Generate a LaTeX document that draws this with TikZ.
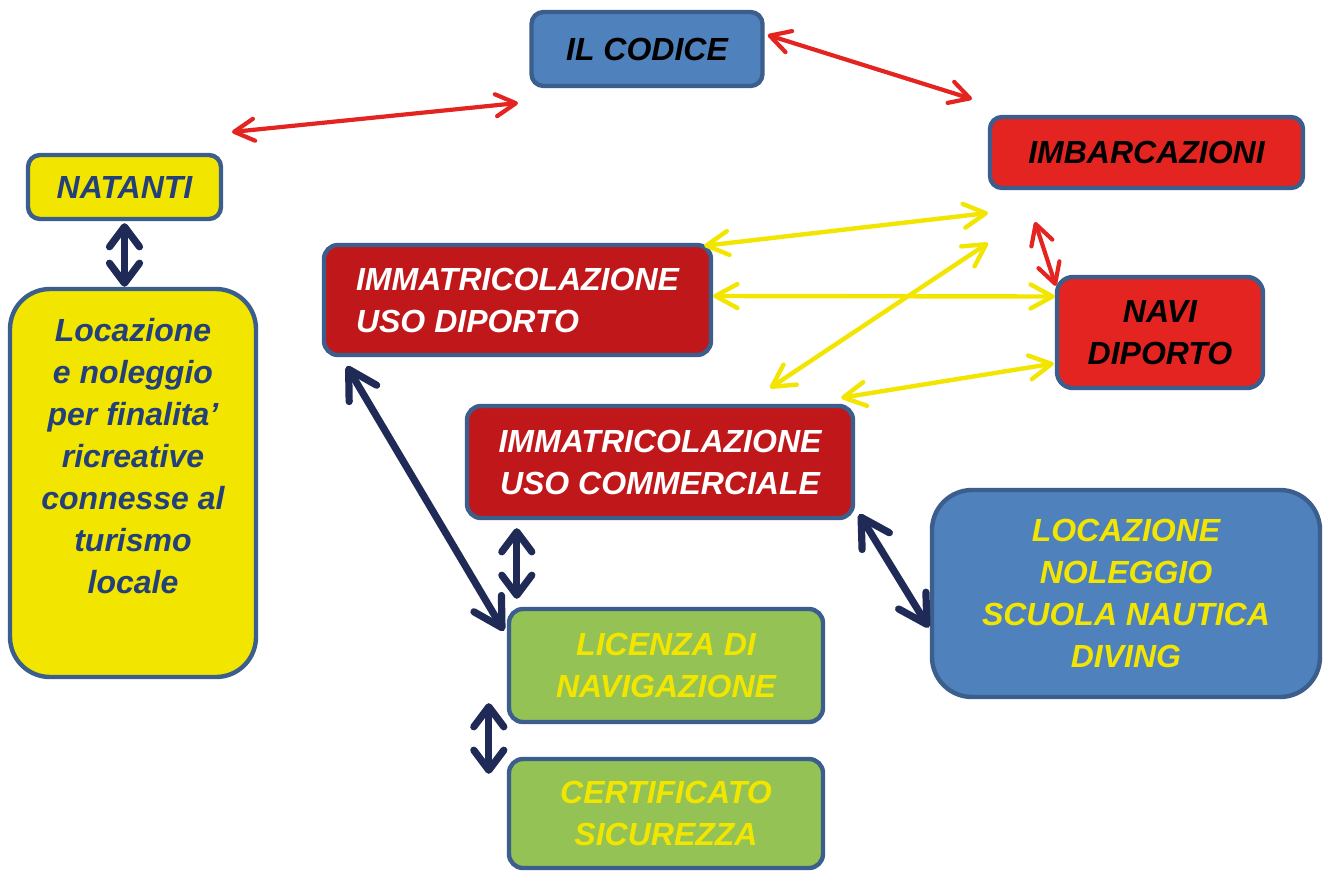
\documentclass[tikz,border=0pt]{standalone}
\usepackage{fontspec}
\setmainfont{Liberation Sans}
\usetikzlibrary{positioning,arrows.meta,calc}

\definecolor{edgeblue}{HTML}{3B5E8C}
\definecolor{codeblue}{HTML}{4F81BD}
\definecolor{lightred}{HTML}{E42420}
\definecolor{deepred}{HTML}{C0181A}
\definecolor{leafgreen}{HTML}{94C254}
\definecolor{sunyellow}{HTML}{F2E600}
\definecolor{inkblue}{HTML}{24407A}
\definecolor{navy}{HTML}{1F2B56}

\begin{document}
\begin{tikzpicture}[x=0.5pt, y=-0.5pt, line cap=round,
  box/.style={draw=edgeblue, line width=2.2pt, rounded corners=6pt,
    align=center, inner sep=0pt,
    font=\bfseries\itshape\fontsize{16}{21}\selectfont},
  txt/.style={align=center, inner sep=0pt,
    font=\bfseries\itshape\fontsize{16}{21}\selectfont},
  redlink/.style={<->, >={Straight Barb[length=10pt,width=11pt,round]},
    line width=2.1pt, lightred},
  yellink/.style={<->, >={Straight Barb[length=11pt,width=12pt,round]},
    line width=2.2pt, sunyellow},
  navylink/.style={<->, >={Straight Barb[length=14pt,width=16pt,round]},
    line width=3.6pt, navy},
  navyshort/.style={navylink, >={Straight Barb[length=10pt,width=15pt,round]}}
]
\useasboundingbox (0,0) rectangle (1328,873);

%--- Boxes ---
\node[box, fill=codeblue, minimum width=115.5pt, minimum height=37pt]
  (codice) at (647,49) {IL CODICE};
\node[box, fill=lightred, minimum width=156.5pt, minimum height=35.5pt]
  (imbarc) at (1146.5,152.5) {IMBARCAZIONI};
\node[box, fill=sunyellow, text=inkblue, minimum width=96.5pt, minimum height=32pt]
  (natanti) at (124.5,187) {NATANTI};
\node[box, fill=sunyellow, rounded corners=20pt, minimum width=123pt, minimum height=194pt]
  (loc) at (133,483) {};
\node[txt, text=inkblue] (loctxt) at (133,456)
  {Locazione\\e noleggio\\per finalita’\\ricreative\\connesse al\\turismo\\locale};
\node[box, fill=deepred, text=white, align=left, rounded corners=7pt,
  minimum width=193.5pt, minimum height=55pt]
  (diporto) at (517.5,300) {IMMATRICOLAZIONE\\USO DIPORTO};
\node[box, fill=lightred, rounded corners=8pt, minimum width=103pt, minimum height=55.5pt]
  (navi) at (1160,332.5) {NAVI\\DIPORTO};
\node[box, fill=deepred, text=white, rounded corners=7pt,
  minimum width=193pt, minimum height=56pt]
  (comm) at (660,462) {IMMATRICOLAZIONE\\USO COMMERCIALE};
\node[box, fill=codeblue, text=sunyellow, rounded corners=20pt,
  minimum width=194pt, minimum height=103.5pt]
  (scuola) at (1126,593.5) {LOCAZIONE\\NOLEGGIO\\SCUOLA NAUTICA\\DIVING};
\node[box, fill=leafgreen, text=sunyellow, rounded corners=7pt,
  minimum width=157pt, minimum height=56.5pt]
  (licenza) at (666,665.5) {LICENZA DI\\NAVIGAZIONE};
\node[box, fill=leafgreen, text=sunyellow, rounded corners=7pt,
  minimum width=157pt, minimum height=54.5pt]
  (certif) at (666,813.5) {CERTIFICATO\\SICUREZZA};

%--- Free arrow ends ---
\coordinate (natR) at (232,132);
\coordinate (codL) at (518,103);
\coordinate (codR) at (972,99);
\coordinate (imbB) at (1035,222);
\coordinate (imbY1) at (988,213);
\coordinate (imbY2) at (988,243);
\coordinate (commT) at (770,388);

%--- Red links ---
\draw[redlink] (natR) -- (codL);
\draw[redlink] ($(codice.east)+(3,-14)$) -- (codR);
\draw[redlink] (imbB) -- ($(navi.north west)+(1,11)$);

%--- Yellow links ---
\draw[yellink] ($(diporto.north east)+(-9,3)$) -- (imbY1);
\draw[yellink] ($(diporto.east)+(0,-4)$) -- ($(navi.west)+(0,-36)$);
\draw[yellink] (commT) -- (imbY2);
\draw[yellink] ($(comm.north east)+(-14,-6)$) -- ($(navi.west)+(-1,31)$);

%--- Navy links ---
\draw[navyshort] ($(natanti.south)+(0,2)$) -- (natanti.south |- loc.north);
\draw[navylink] ($(diporto.south west)+(25,9)$) -- ($(licenza.north west)+(-3,24)$);
\draw[navyshort] ($(comm.south west)+(52,8)$) -- ($(licenza.north west)+(10,-8)$);
\draw[navylink] ($(comm.south east)+(4,-6)$) -- ($(scuola.west)+(-1,34)$);
\draw[navyshort] ($(licenza.south west)+(-18,-21)$) -- ($(certif.north west)+(-18,17)$);

\end{tikzpicture}
\end{document}
